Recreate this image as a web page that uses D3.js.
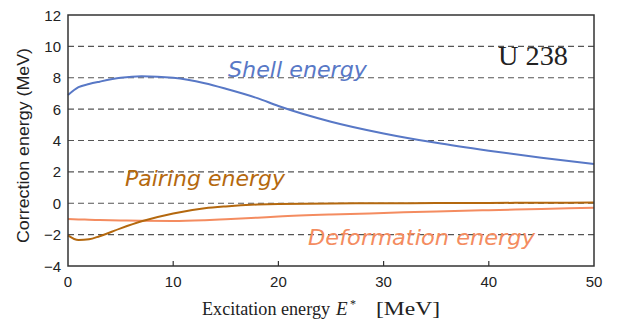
<!DOCTYPE html>
<html>
<head>
<meta charset="utf-8">
<script src="https://cdn.jsdelivr.net/npm/d3@7"></script>
<style>
  body { margin: 0; background: #fff; }
  svg { display: block; }
</style>
</head>
<body>
<div id="chart"></div>
<script>
// excitation energy grid (MeV)
const energy = [0, 1, 2, 3, 5, 7, 10, 13, 15, 18, 20, 25, 30, 35, 40, 45, 50];
// correction energies (MeV)
const shell = [6.9, 7.4, 7.6, 7.75, 8.0, 8.1, 8.0, 7.65, 7.3, 6.7, 6.2, 5.2, 4.45, 3.85, 3.35, 2.9, 2.5];
const pairing = [-2.05, -2.35, -2.3, -2.1, -1.6, -1.15, -0.65, -0.32, -0.2, -0.08, -0.04, -0.01, 0, 0.01, 0.02, 0.03, 0.04];
const deformation = [-1.0, -1.03, -1.05, -1.07, -1.1, -1.12, -1.13, -1.08, -1.02, -0.92, -0.85, -0.72, -0.62, -0.52, -0.44, -0.36, -0.28];

const xTicks = [0, 10, 20, 30, 40, 50];
const yTicks = [-4, -2, 0, 2, 4, 6, 8, 10, 12];
const gridValues = [-2, 0, 2, 4, 6, 8, 10];

const width = 618, height = 324;
const margin = {top: 15, right: 24, bottom: 58, left: 68};

const svg = d3.select("#chart").append("svg")
    .attr("width", width)
    .attr("height", height);

const x = d3.scaleLinear().domain([0, 50]).range([margin.left, width - margin.right]);
const y = d3.scaleLinear().domain([-4, 12]).range([height - margin.bottom, margin.top]);

// dashed grid
svg.append("g")
    .selectAll("line")
    .data(gridValues)
    .join("line")
    .attr("x1", x(0))
    .attr("x2", x(50))
    .attr("y1", d => y(d))
    .attr("y2", d => y(d))
    .attr("stroke", "#555")
    .attr("stroke-width", 1.2)
    .attr("stroke-dasharray", "6,4");

// x ticks (inward)
svg.append("g")
    .selectAll("line")
    .data(xTicks.slice(1, -1))
    .join("line")
    .attr("x1", d => x(d))
    .attr("x2", d => x(d))
    .attr("y1", y(-4))
    .attr("y2", y(-4) - 5)
    .attr("stroke", "#333")
    .attr("stroke-width", 1.2);

const tickFont = "'Liberation Sans', Arial, sans-serif";

svg.append("g")
    .selectAll("text")
    .data(xTicks)
    .join("text")
    .attr("x", d => x(d))
    .attr("y", 287)
    .attr("text-anchor", "middle")
    .attr("font-family", tickFont)
    .attr("font-size", 15)
    .attr("fill", "#222")
    .text(d => d);

svg.append("g")
    .selectAll("text")
    .data(yTicks)
    .join("text")
    .attr("x", 61)
    .attr("y", d => y(d) + 5.5)
    .attr("text-anchor", "end")
    .attr("font-family", tickFont)
    .attr("font-size", 15)
    .attr("fill", "#222")
    .text(d => d < 0 ? "\u2212" + Math.abs(d) : d);

// curves
const line = values => d3.line()
    .x((d, i) => x(energy[i]))
    .y(d => y(d))
    .curve(d3.curveMonotoneX)(values);

svg.append("path").attr("d", line(deformation))
    .attr("fill", "none").attr("stroke", "#f48c60").attr("stroke-width", 2);
svg.append("path").attr("d", line(pairing))
    .attr("fill", "none").attr("stroke", "#b4680e").attr("stroke-width", 2);
svg.append("path").attr("d", line(shell))
    .attr("fill", "none").attr("stroke", "#5878c6").attr("stroke-width", 2);

// frame
svg.append("rect")
    .attr("x", x(0))
    .attr("y", y(12))
    .attr("width", x(50) - x(0))
    .attr("height", y(-4) - y(12))
    .attr("fill", "none")
    .attr("stroke", "#333")
    .attr("stroke-width", 1.5);

// curve labels
const labelFont = "'DejaVu Sans', sans-serif";
const curveLabel = (tx, ty, len, color, txt) => svg.append("text")
    .attr("x", tx).attr("y", ty)
    .attr("font-family", labelFont).attr("font-style", "italic").attr("font-size", 22)
    .attr("textLength", len).attr("lengthAdjust", "spacingAndGlyphs")
    .attr("fill", color).text(txt);
curveLabel(228, 77, 139, "#5878c6", "Shell energy");
curveLabel(125, 186, 160, "#b4680e", "Pairing energy");
curveLabel(308, 245, 227, "#f48c60", "Deformation energy");

// nucleus label
svg.append("text").attr("x", 498).attr("y", 65)
    .attr("font-family", "'Liberation Serif', 'Times New Roman', serif")
    .attr("font-size", 28).attr("fill", "#222")
    .attr("textLength", 70).attr("lengthAdjust", "spacingAndGlyphs")
    .text("U 238");

// axis titles
const serif = "'Liberation Serif', 'Times New Roman', serif";
svg.append("text").attr("x", 202).attr("y", 315)
    .attr("font-family", serif).attr("font-size", 18).attr("fill", "#222")
    .attr("textLength", 128).attr("lengthAdjust", "spacingAndGlyphs")
    .text("Excitation energy");
svg.append("text").attr("x", 336).attr("y", 315)
    .attr("font-family", serif).attr("font-size", 19).attr("font-style", "italic").attr("fill", "#222")
    .text("E");
svg.append("text").attr("x", 350).attr("y", 308)
    .attr("font-family", serif).attr("font-size", 12).attr("fill", "#222")
    .text("*");
svg.append("text").attr("x", 376).attr("y", 315)
    .attr("font-family", serif).attr("font-size", 19).attr("fill", "#222")
    .attr("textLength", 64).attr("lengthAdjust", "spacingAndGlyphs")
    .text("[MeV]");

svg.append("text")
    .attr("transform", "translate(29,145.5) rotate(-90)")
    .attr("text-anchor", "middle")
    .attr("font-family", tickFont)
    .attr("font-size", 16).attr("fill", "#222")
    .attr("textLength", 195).attr("lengthAdjust", "spacingAndGlyphs")
    .text("Correction energy (MeV)");
</script>
</body>
</html>
